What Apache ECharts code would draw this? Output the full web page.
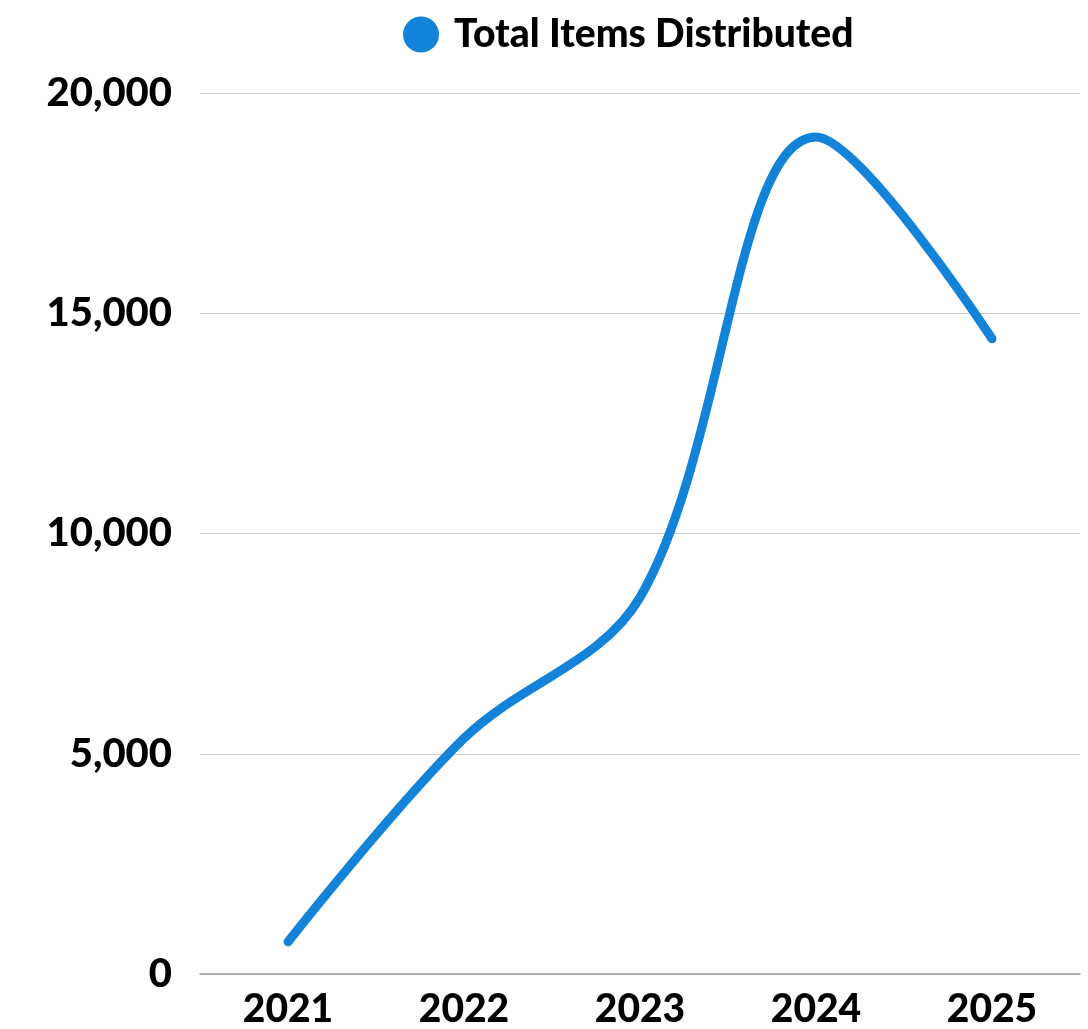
<!DOCTYPE html>
<html>
<head>
<meta charset="utf-8">
<script src="https://cdn.jsdelivr.net/npm/echarts@6/dist/echarts.min.js"></script>
<style>
html,body{margin:0;padding:0;background:#fff;}
#c{width:1088px;height:1029px;}
</style>
</head>
<body>
<div id="c"></div>
<script>
const years = ['2021', '2022', '2023', '2024', '2025'];
const totalItems = [730, 5350, 8550, 19000, 14420];
const seriesName = 'Total Items Distributed';

const chart = echarts.init(document.getElementById('c'));
const font = 'Lato';
chart.setOption({
  animation: false,
  legend: {
    top: 10,
    left: 398,
    icon: 'circle',
    itemWidth: 36,
    itemHeight: 36,
    itemGap: 10,
    textStyle: { fontFamily: font, fontWeight: 900, fontSize: 39, color: '#000', padding: [0, 0, 0, 10] },
    data: [seriesName]
  },
  grid: { left: 200, right: 8, top: 93, bottom: 54 },
  xAxis: {
    type: 'category',
    data: years,
    boundaryGap: true,
    axisTick: { show: false },
    axisLine: { lineStyle: { color: '#999', width: 1.5 } },
    axisLabel: { fontFamily: font, fontWeight: 900, fontSize: 39, color: '#000', margin: 16 }
  },
  yAxis: {
    type: 'value',
    min: 0, max: 20000, interval: 5000,
    axisLine: { show: false },
    axisTick: { show: false },
    splitLine: { lineStyle: { color: '#ccc', width: 1 } },
    axisLabel: {
      fontFamily: font, fontWeight: 900, fontSize: 40, color: '#000', margin: 28,
      formatter: v => v.toLocaleString('en-US')
    }
  },
  series: [{
    name: seriesName,
    type: 'line',
    data: totalItems,
    smooth: 0.35,
    showSymbol: false,
    symbol: 'circle',
    color: '#1283d8',
    lineStyle: { width: 9, cap: 'round', color: '#1283d8' }
  }]
});
</script>
</body>
</html>
